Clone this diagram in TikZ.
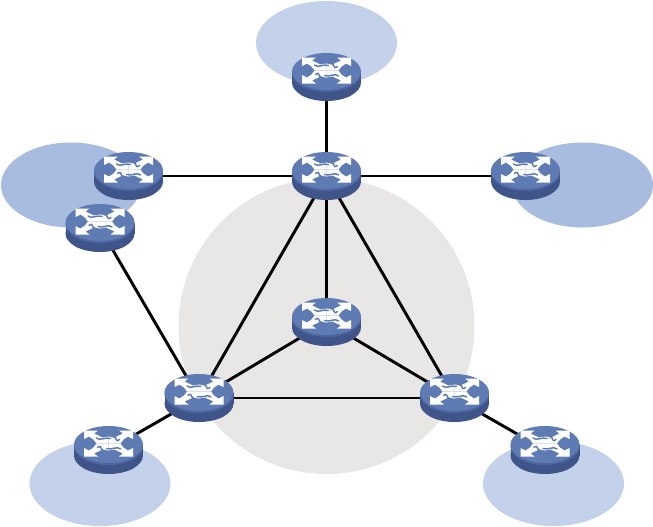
\documentclass[tikz,border=0pt]{standalone}
\usetikzlibrary{arrows.meta}

\definecolor{blobpale}{HTML}{C3D1EA}
\definecolor{blobmid}{HTML}{A8BCDF}
\definecolor{coregray}{HTML}{E9E7E5}
\definecolor{routertop}{HTML}{5F7BB3}
\definecolor{routerside}{HTML}{3F5489}
\definecolor{routerrim}{HTML}{4E659F}

\tikzset{
  hubnode/.style={circle, minimum size=20pt, inner sep=0pt},
  link/.style={line width=2.2pt, black},
  router/.pic={
    % Body
    \fill[routerside] (0,5.5) ellipse (34.5 and 18.5);
    \fill[routerside] (-34.5,-5.5) rectangle (34.5,5.5);
    \fill[routerrim] (0,-3.5) ellipse (34.5 and 18.5);
    \fill[routertop] (0,-5.5) ellipse (34.5 and 18.5);
    \begin{scope}[shift={(0,-6.5)}]
      % Arrows
      \foreach \sx/\sy in {1/1,1/-1,-1/1,-1/-1}{
        \fill[white, xscale=\sx, yscale=\sy]
          (24.5,13) -- (10.5,13) -- (14.5,10) -- (6,6) -- (0,7) -- (0,0)
          -- (12,0) -- (15,4) -- (19.5,7) -- (24.5,4.5) -- cycle;
      }
      % Swirl
      \draw[routertop, line width=1.1pt, line cap=round]
        (-12,-5.5) .. controls (-8,-2) and (-4,-7) .. (2,-5)
        (12,5.5) .. controls (8,2) and (4,7) .. (-2,5)
        (-11,4) .. controls (-6,0) and (-9,8) .. (-4,7)
        (11,-4) .. controls (6,0) and (9,-8) .. (4,-7);
    \end{scope}
  }
}

\begin{document}
\begin{tikzpicture}[x=0.75pt, y=-0.75pt]
  \useasboundingbox (0,0) rectangle (653,526);

  % Shaded regions
  \fill[coregray] (326.5,326) circle (148);
  \fill[blobpale] (326.5,43) ellipse (70.5 and 42);
  \fill[blobmid] (71,185) ellipse (70 and 42.5);
  \fill[blobmid] (582.5,185) ellipse (70.5 and 42.5);
  \fill[blobpale] (100,483.5) ellipse (70.5 and 42.5);
  \fill[blobpale] (553.5,483.5) ellipse (70.5 and 42.5);

  % Routers
  \node[hubnode] (top) at (326.5,77) {};
  \node[hubnode] (hub) at (326.5,176) {};
  \node[hubnode] (west) at (128.5,176) {};
  \node[hubnode] (westlow) at (100,228) {};
  \node[hubnode] (east) at (525.5,176) {};
  \node[hubnode] (mid) at (326.5,322) {};
  \node[hubnode] (sw) at (199,398) {};
  \node[hubnode] (se) at (454.5,398) {};
  \node[hubnode] (swlow) at (108.5,450) {};
  \node[hubnode] (selow) at (545,450) {};

  % Links
  \foreach \a/\b in {hub/top, hub/west, hub/east, hub/mid, hub/sw, hub/se,
      mid/sw, mid/se, sw/se, westlow/sw, sw/swlow, se/selow}
    \draw[link] (\a) -- (\b);

  % Icons
  \foreach \n in {top, hub, west, westlow, east, mid, sw, se, swlow, selow}
    \pic at (\n) {router};
\end{tikzpicture}
\end{document}
